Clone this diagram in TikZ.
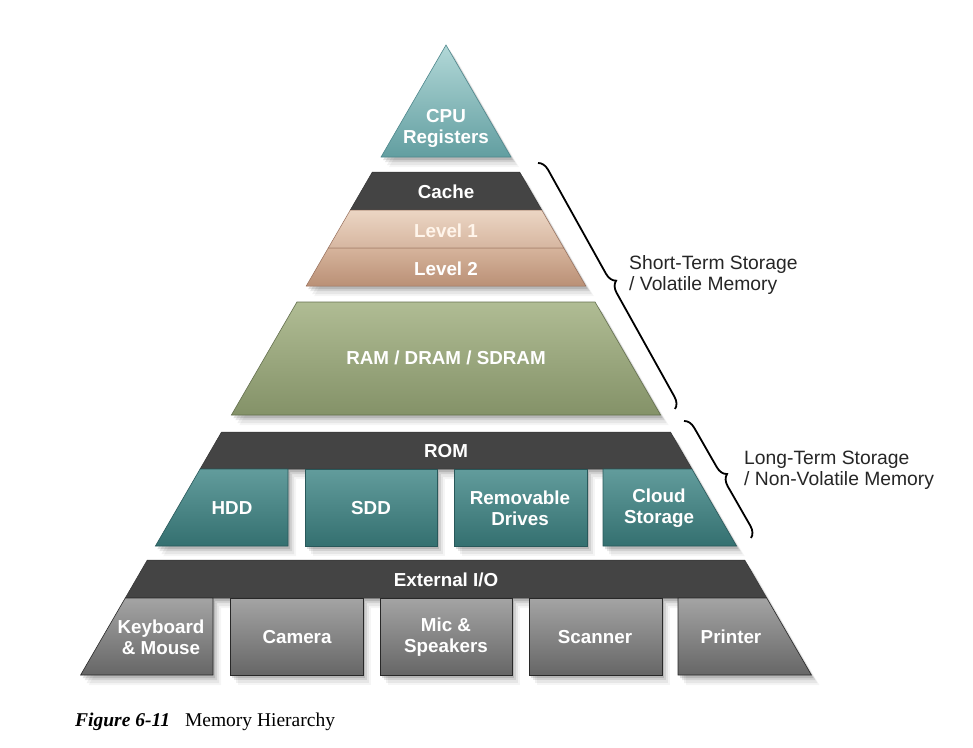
\documentclass[tikz,border=0pt]{standalone}
\usepackage{fontspec}
\setmainfont{Liberation Sans}
\newfontfamily\capfont{Liberation Serif}
\usetikzlibrary{decorations.pathreplacing}
\definecolor{cpuTop}{RGB}{178,216,216}
\definecolor{cpuBot}{RGB}{98,158,160}
\definecolor{cpuLine}{RGB}{78,135,140}
\definecolor{darkbar}{RGB}{68,68,68}
\definecolor{lvOneTop}{RGB}{236,214,196}
\definecolor{lvOneBot}{RGB}{214,182,160}
\definecolor{lvTwoTop}{RGB}{214,180,156}
\definecolor{lvTwoBot}{RGB}{186,144,118}
\definecolor{lvLine}{RGB}{150,110,90}
\definecolor{ramTop}{RGB}{176,188,148}
\definecolor{ramBot}{RGB}{132,146,104}
\definecolor{ramLine}{RGB}{100,112,78}
\definecolor{tealTop}{RGB}{98,156,156}
\definecolor{tealBot}{RGB}{52,112,112}
\definecolor{tealLine}{RGB}{40,88,90}
\definecolor{grayTop}{RGB}{164,164,164}
\definecolor{grayBot}{RGB}{102,102,102}
\definecolor{grayLine}{RGB}{40,40,40}
\newcommand\XL[1]{{446-0.58*(#1-45)}}
\newcommand\XR[1]{{446+0.58*(#1-45)}}
\newcommand\trapz[3]{\path[#1] (\XL{#2},#2) -- (\XR{#2},#2) -- (\XR{#3},#3) -- (\XL{#3},#3) -- cycle;}
\newcommand\lbox[4]{\path[#1] (\XL{#2},#2) -- (#4,#2) -- (#4,#3) -- (\XL{#3},#3) -- cycle;}
\newcommand\rbox[4]{\path[#1] (#4,#2) -- (\XR{#2},#2) -- (\XR{#3},#3) -- (#4,#3) -- cycle;}
\newcommand\midbox[5]{\path[#1] (#4,#2) rectangle (#5,#3);}
\begin{document}
\begin{tikzpicture}[x=1pt,y=-1pt,
  softshadow/.style={
    preaction={fill=black,opacity=.12,transform canvas={xshift=2pt,yshift=-3pt}},
    preaction={fill=black,opacity=.09,transform canvas={xshift=4pt,yshift=-5pt}},
    preaction={fill=black,opacity=.06,transform canvas={xshift=6pt,yshift=-8pt}},
    preaction={fill=black,opacity=.04,transform canvas={xshift=8pt,yshift=-10pt}}},
  cpufill/.style={softshadow,top color=cpuTop,bottom color=cpuBot,draw=cpuLine,line width=.6pt},
  barfill/.style={softshadow,fill=darkbar,draw=black!80,line width=.5pt},
  lvone/.style={softshadow,top color=lvOneTop,bottom color=lvOneBot,draw=lvLine,line width=.5pt},
  lvtwo/.style={softshadow,top color=lvTwoTop,bottom color=lvTwoBot,draw=lvLine,line width=.5pt},
  ramfill/.style={softshadow,top color=ramTop,bottom color=ramBot,draw=ramLine,line width=.6pt},
  tealfill/.style={softshadow,top color=tealTop,bottom color=tealBot,draw=tealLine,line width=.6pt},
  grayfill/.style={softshadow,top color=grayTop,bottom color=grayBot,draw=grayLine,line width=.6pt},
  lbl/.style={text=white,font=\fontsize{18.8}{21}\selectfont\bfseries,align=center,inner sep=0pt},
  side/.style={text=black!85,font=\fontsize{19.3}{21}\selectfont,align=left,anchor=west,inner sep=0pt},
  bracestyle/.style={decorate,line width=1.8pt,black}
]
\useasboundingbox (0,0) rectangle (973,747);
\fill[white] (0,0) rectangle (973,747);

% CPU registers
\path[cpufill] (446,45) -- (\XR{157},157) -- (\XL{157},157) -- cycle;
\node[lbl] (cpu) at (446,128) {CPU\\Registers};

% Cache
\trapz{barfill}{172}{210}
\trapz{lvone}{210}{248}
\trapz{lvtwo}{248}{286}
\node[lbl] (cache) at (446,192) {Cache};
\node[lbl,text=white!92!orange] (l1) at (446,231) {Level 1};
\node[lbl] (l2) at (446,269) {Level 2};

% RAM
\trapz{ramfill}{302}{415}
\node[lbl] (ram) at (446,358) {RAM / DRAM / SDRAM};

% ROM
\trapz{barfill}{432}{469}
\lbox{tealfill}{469}{546}{288}
\midbox{tealfill}{469}{546}{305}{437}
\midbox{tealfill}{469}{546}{454}{587}
\rbox{tealfill}{469}{546}{603}
\node[lbl] (rom) at (446,451) {ROM};
\node[lbl] (hdd) at (232,508) {HDD};
\node[lbl] (sdd) at (371,508) {SDD};
\node[lbl] (rem) at (520,508) {Removable\\Drives};
\node[lbl] (cloud) at (659,508) {Cloud\\Storage};

% External I/O
\trapz{barfill}{560}{598}
\lbox{grayfill}{598}{675}{213}
\midbox{grayfill}{598}{675}{230}{363}
\midbox{grayfill}{598}{675}{380}{512}
\midbox{grayfill}{598}{675}{529}{662}
\rbox{grayfill}{598}{675}{678}
\node[lbl] (io) at (446,580) {External I/O};
\node[lbl] (kbd) at (161,637) {Keyboard\\\& Mouse};
\node[lbl] (cam) at (297,637) {Camera};
\node[lbl] (mic) at (446,637) {Mic \&\\Speakers};
\node[lbl] (scan) at (595,637) {Scanner};
\node[lbl] (prn) at (731,637) {Printer};

% Braces
\coordinate (sa) at (538,163);
\coordinate (sb) at (675,409);
\coordinate (la) at (684,421);
\coordinate (lb) at (751,538);
\draw[bracestyle,decoration={brace,amplitude=11pt}] (sa) -- (sb);
\draw[bracestyle,decoration={brace,amplitude=11pt}] (la) -- (lb);
\node[side] (st) at (629,275) {Short-Term Storage\\/ Volatile Memory};
\node[side] (lt) at (744,470) {Long-Term Storage\\/ Non-Volatile Memory};

% Caption
\node[anchor=base west,inner sep=0pt,font=\capfont\fontsize{19.5}{22}\selectfont] (cap) at (75,726)
  {\textbf{\textit{Figure 6-11}}\hspace{15pt}Memory Hierarchy};
\end{tikzpicture}
\end{document}
